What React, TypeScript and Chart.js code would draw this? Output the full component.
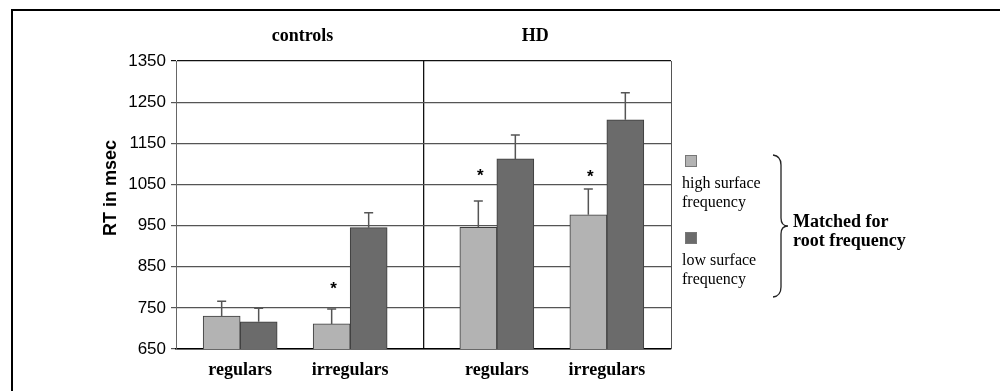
import React, { useEffect, useRef } from "react";
import { Chart, registerables } from "chart.js";

Chart.register(...registerables);

// ---- data ----
const groups = ["controls", "HD"];
const categories = ["regulars", "irregulars", "regulars", "irregulars"];
const highSurface = [730, 711, 946, 976];
const lowSurface = [716, 945, 1112, 1207];
const highErr = [36, 36, 64, 63];
const lowErr = [33, 36, 58, 66];
const asteriskLevel = [null, 805, 1080, 1078];
const seriesNames = ["high surface frequency", "low surface frequency"];
const legendLines = [["high surface", "frequency"], ["low surface", "frequency"]];
const braceLabel = ["Matched for", "root frequency"];
const yTitle = "RT in msec";
const yMin = 650;
const yMax = 1350;
const yStep = 100;

// ---- layout (slots on the category axis) ----
const slotCount = 27;
const slotOf = [3, 9, 17, 23];
const dividerSlot = 13;
const groupTitleSlot = [6.4, 19.1];

const LIGHT = "#b3b3b3";
const DARK = "#6b6b6b";
const EDGE = "#3c3c3c";
const SANS = '"Liberation Sans", Arial, sans-serif';
const SERIF = '"Liberation Serif", "Times New Roman", serif';

const labels = Array.from({ length: slotCount }, (_, i) => {
  const k = slotOf.indexOf(i);
  return k >= 0 ? categories[k] : "";
});
const spread = (vals: (number | null)[]) =>
  Array.from({ length: slotCount }, (_, i) => {
    const k = slotOf.indexOf(i);
    return k >= 0 ? vals[k] : null;
  });

const decorPlugin = {
  id: "decor",
  afterDatasetsDraw(chart: any) {
    const ctx = chart.ctx;
    const y = chart.scales.y;
    const x = chart.scales.x;
    const area = chart.chartArea;
    ctx.save();
    // right border of plot
    ctx.strokeStyle = "#555";
    ctx.lineWidth = 1;
    ctx.beginPath();
    ctx.moveTo(area.right + 0.5, area.top);
    ctx.lineTo(area.right + 0.5, area.bottom);
    ctx.stroke();

    // error bars
    const errs = [highErr, lowErr];
    const vals = [highSurface, lowSurface];
    [0, 1].forEach((di) => {
      const meta = chart.getDatasetMeta(di);
      slotOf.forEach((slot, k) => {
        const el = meta.data[slot];
        if (!el) return;
        const top = el.y;
        const errY = y.getPixelForValue(vals[di][k] + errs[di][k]);
        ctx.strokeStyle = "#555";
        ctx.lineWidth = 1.5;
        ctx.beginPath();
        ctx.moveTo(el.x, top);
        ctx.lineTo(el.x, errY);
        ctx.moveTo(el.x - 4.5, errY);
        ctx.lineTo(el.x + 4.5, errY);
        ctx.stroke();
      });
    });

    // asterisks
    const meta0 = chart.getDatasetMeta(0);
    ctx.fillStyle = "#000";
    ctx.font = "bold 17px " + SANS;
    ctx.textAlign = "center";
    ctx.textBaseline = "middle";
    slotOf.forEach((slot, k) => {
      const lvl = asteriskLevel[k];
      if (lvl == null) return;
      const el = meta0.data[slot];
      ctx.fillText("*", el.x + 2, y.getPixelForValue(lvl) + 4);
    });

    // group titles
    ctx.font = "bold 18px " + SERIF;
    groups.forEach((g, i) => {
      ctx.fillText(g, x.getPixelForValue(groupTitleSlot[i]), 36);
    });

    // y axis title
    ctx.save();
    ctx.translate(111, 188);
    ctx.rotate(-Math.PI / 2);
    ctx.font = "bold 18px " + SANS;
    ctx.fillText(yTitle, 0, 0);
    ctx.restore();

    // legend
    const lx = area.right + 11;
    const colors = [LIGHT, DARK];
    const sqTop = [155, 232];
    ctx.textAlign = "left";
    ctx.font = "16px " + SERIF;
    legendLines.forEach((lines, i) => {
      ctx.fillStyle = colors[i];
      ctx.fillRect(lx + 3, sqTop[i], 12, 12);
      ctx.strokeStyle = "#777";
      ctx.lineWidth = 1;
      ctx.strokeRect(lx + 3.5, sqTop[i] + 0.5, 11, 11);
      ctx.fillStyle = "#000";
      lines.forEach((t, j) => {
        ctx.fillText(t, lx, sqTop[i] + 29 + j * 19);
      });
    });

    // brace
    const bx = area.right + 102;
    const bTop = 155;
    const bBot = 297;
    const bMid = 226;
    ctx.strokeStyle = "#222";
    ctx.lineWidth = 1.3;
    ctx.beginPath();
    ctx.moveTo(bx, bTop);
    ctx.quadraticCurveTo(bx + 8, bTop + 1, bx + 8, bTop + 10);
    ctx.lineTo(bx + 8, bMid - 8);
    ctx.quadraticCurveTo(bx + 8, bMid, bx + 15, bMid);
    ctx.quadraticCurveTo(bx + 8, bMid, bx + 8, bMid + 8);
    ctx.lineTo(bx + 8, bBot - 10);
    ctx.quadraticCurveTo(bx + 8, bBot - 1, bx, bBot);
    ctx.stroke();

    ctx.fillStyle = "#000";
    ctx.font = "bold 18px " + SERIF;
    braceLabel.forEach((t, j) => {
      ctx.fillText(t, bx + 20, 222 + j * 19);
    });
    ctx.restore();
  },
};

export default function App() {
  const ref = useRef<HTMLCanvasElement | null>(null);
  useEffect(() => {
    if (!ref.current) return;
    const chart = new Chart(ref.current, {
      type: "bar",
      data: {
        labels,
        datasets: [
          {
            label: seriesNames[0],
            data: spread(highSurface),
            backgroundColor: LIGHT,
            borderColor: EDGE,
            borderWidth: 1,
            barThickness: 37,
          },
          {
            label: seriesNames[1],
            data: spread(lowSurface),
            backgroundColor: DARK,
            borderColor: EDGE,
            borderWidth: 1,
            barThickness: 37,
          },
        ],
      },
      options: {
        responsive: false,
        animation: false,
        layout: { padding: { left: 100, right: 329, top: 61, bottom: 0 } },
        plugins: { legend: { display: false }, tooltip: { enabled: false }, title: { display: false } },
        scales: {
          x: {
            type: "category",
            offset: true,
            grid: {
              offset: false,
              drawTicks: false,
              color: (c: any) => (c.index === dividerSlot ? "#111" : "transparent"),
              lineWidth: 1.3,
            },
            border: { color: "#000", width: 1.5 },
            ticks: {
              autoSkip: false,
              maxRotation: 0,
              padding: 11,
              color: "#000",
              font: { family: SERIF, size: 18, weight: "bold" },
            },
            afterFit: (s: any) => {
              s.height = 42;
            },
          },
          y: {
            min: yMin,
            max: yMax,
            ticks: {
              stepSize: yStep,
              padding: 5,
              color: "#000",
              font: { family: SANS, size: 17 },
              callback: (v: any) => String(v),
            },
            grid: {
              color: (c: any) => (c.tick && c.tick.value === yMax ? "#111" : "#555"),
              lineWidth: 1.2,
              tickLength: 5,
            },
            border: { color: "#666", width: 1 },
            title: { display: false, text: yTitle },
            afterFit: (s: any) => {
              s.width = 76;
            },
          },
        },
      },
      plugins: [decorPlugin],
    });
    return () => chart.destroy();
  }, []);

  return (
    <div style={{ position: "absolute", left: 0, top: 0, width: 1000, height: 391, overflow: "hidden", background: "#fff" }}>
      <canvas ref={ref} width={1000} height={391} style={{ position: "absolute", left: 0, top: 0 }} />
      <div
        style={{
          position: "absolute",
          left: 11,
          top: 9,
          width: 1000,
          height: 400,
          borderLeft: "2px solid #000",
          borderTop: "2px solid #000",
          pointerEvents: "none",
        }}
      />
    </div>
  );
}
